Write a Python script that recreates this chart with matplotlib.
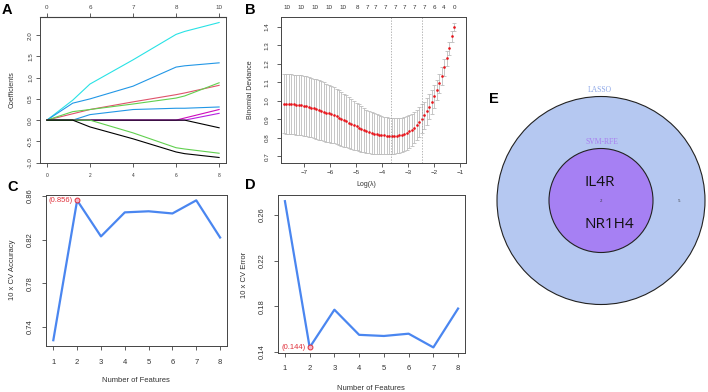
import matplotlib
matplotlib.use("Agg")
import matplotlib.pyplot as plt
from matplotlib.patches import Circle

plt.rcParams['font.family'] = ['Liberation Sans', 'DejaVu Sans']

# ---- panel A: lasso coefficient paths ----
l1_norm = [0, 1.2, 2, 4, 6, 6.4, 8]
coef_paths = [
    [0, 0.47, 0.85, 1.42, 2.02, 2.09, 2.30],
    [0, 0.40, 0.50, 0.80, 1.25, 1.28, 1.35],
    [0, 0.15, 0.25, 0.43, 0.60, 0.64, 0.82],
    [0, 0.20, 0.25, 0.38, 0.52, 0.57, 0.88],
    [0, 0.00, 0.13, 0.25, 0.28, 0.28, 0.31],
    [0, 0.00, 0.00, 0.00, 0.00, 0.05, 0.25],
    [0, 0.00, 0.00, 0.00, 0.00, 0.00, 0.16],
    [0, 0.00, 0.00, 0.00, 0.00, 0.00, -0.18],
    [0, 0.00, 0.00, -0.30, -0.65, -0.68, -0.78],
    [0, 0.00, -0.16, -0.44, -0.75, -0.79, -0.88],
]
coef_colors = ['#28E2E5', '#2297E6', '#DF536B', '#61D04F', '#2297E6',
               '#CD0BBC', '#B620E0', 'black', '#61D04F', 'black']
a_bottom_labels = ['0', '2', '4', '6', '8']
a_top_labels = ['0', '6', '7', '8', '10']

# ---- panel B: cross-validated binomial deviance ----
log_lambda = [-7.78, -7.68, -7.59, -7.49, -7.39, -7.30, -7.20, -7.10, -7.01, -6.91,
              -6.82, -6.72, -6.62, -6.53, -6.43, -6.33, -6.24, -6.14, -6.04, -5.95,
              -5.85, -5.75, -5.66, -5.56, -5.46, -5.37, -5.27, -5.18, -5.08, -4.98,
              -4.89, -4.79, -4.69, -4.60, -4.50, -4.40, -4.31, -4.21, -4.11, -4.02,
              -3.92, -3.82, -3.73, -3.63, -3.54, -3.44, -3.34, -3.25, -3.15, -3.05,
              -2.96, -2.86, -2.76, -2.67, -2.57, -2.47, -2.38, -2.28, -2.18, -2.09,
              -1.99, -1.89, -1.80, -1.70, -1.61, -1.51, -1.41, -1.32, -1.22]
cv_mean = [0.985, 0.984, 0.983, 0.982, 0.981, 0.980, 0.978, 0.976, 0.974, 0.971,
           0.967, 0.964, 0.960, 0.956, 0.951, 0.947, 0.942, 0.937, 0.932, 0.927,
           0.922, 0.916, 0.910, 0.903, 0.896, 0.890, 0.883, 0.876, 0.869, 0.862,
           0.855, 0.848, 0.842, 0.836, 0.831, 0.826, 0.823, 0.820, 0.817, 0.815,
           0.813, 0.812, 0.810, 0.810, 0.810, 0.812, 0.813, 0.817, 0.823, 0.828,
           0.835, 0.844, 0.855, 0.870, 0.886, 0.904, 0.922, 0.943, 0.969, 0.994,
           1.024, 1.059, 1.095, 1.135, 1.181, 1.230, 1.286, 1.349, 1.400]
cv_se = [0.161, 0.161, 0.161, 0.161, 0.161, 0.162, 0.162, 0.162, 0.162, 0.162,
         0.162, 0.161, 0.161, 0.160, 0.160, 0.159, 0.158, 0.157, 0.156, 0.154,
         0.152, 0.150, 0.148, 0.146, 0.143, 0.141, 0.138, 0.135, 0.132, 0.129,
         0.126, 0.123, 0.120, 0.117, 0.115, 0.112, 0.110, 0.108, 0.106, 0.104,
         0.102, 0.100, 0.098, 0.097, 0.096, 0.095, 0.094, 0.093, 0.092, 0.091,
         0.089, 0.087, 0.085, 0.083, 0.080, 0.077, 0.074, 0.071, 0.068, 0.064,
         0.060, 0.056, 0.052, 0.048, 0.044, 0.040, 0.035, 0.030, 0.022]
lambda_min = -3.65
lambda_1se = -2.45
b_top_pos = [-7.67, -7.11, -6.58, -6.04, -5.50, -4.94, -4.55, -4.24, -3.87, -3.50,
             -3.13, -2.76, -2.38, -2.00, -1.63, -1.22]
b_top_labels = ['10', '10', '10', '10', '10', '8', '7', '7', '7', '7', '7', '7', '7', '6', '4', '0']

# ---- panels C, D: SVM-RFE ----
n_features = [1, 2, 3, 4, 5, 6, 7, 8]
cv_accuracy = [0.728, 0.856, 0.823, 0.845, 0.846, 0.844, 0.856, 0.822]
cv_error = [0.272, 0.144, 0.177, 0.155, 0.154, 0.156, 0.144, 0.178]

# ---- panel E: venn ----
venn_sets = ['LASSO', 'SVM-RFE']
venn_counts = [5, 2]
venn_genes = ['IL4R', 'NR1H4']

W, H = 708, 392
fig = plt.figure(figsize=(W / 100, H / 100), dpi=100)


def add_ax(l, t, r, b):
    return fig.add_axes([l / W, 1 - b / H, (r - l) / W, (b - t) / H])


def ftext(x, y, s, **kw):
    fig.text(x / W, 1 - y / H, s, **kw)


def r_style(ax, fs, pad=2):
    for sp in ax.spines.values():
        sp.set_color('#444444')
        sp.set_linewidth(0.7)
    ax.tick_params(direction='out', length=3, width=0.6, labelsize=fs,
                   colors='#444444', labelcolor='#333333', pad=pad)
    ax.tick_params(axis='y', labelrotation=90)
    plt.setp(ax.get_yticklabels(), va='center')


# A
axA = add_ax(40, 17, 226, 163)
for path, col in zip(coef_paths, coef_colors):
    axA.plot(l1_norm, path, color=col, lw=0.8)
axA.set_xlim(-0.32, 8.32)
axA.set_ylim(-1.01, 2.43)
axA.set_xticks([0, 2, 4, 6, 8])
axA.set_xticklabels(a_bottom_labels)
axA.set_yticks([-1, -0.5, 0, 0.5, 1, 1.5, 2])
axA.set_yticklabels(['-1.0', '-0.5', '0.0', '0.5', '1.0', '1.5', '2.0'])
r_style(axA, 4.5)
axA.tick_params(axis='x', labelsize=3.5, pad=4)
topA = axA.secondary_xaxis('top')
topA.set_xticks([0, 2, 4, 6, 8])
topA.set_xticklabels(a_top_labels)
topA.tick_params(direction='out', length=3, width=0.6, labelsize=4.5, colors='#444444', pad=2)
ftext(12, 90, 'Coefficients', rotation=90, ha='center', va='center', fontsize=5, color='#333333')

# B
axB = add_ax(281, 17, 466, 163)
axB.errorbar(log_lambda, cv_mean, yerr=cv_se, fmt='none', ecolor='#BDBDBD',
             elinewidth=0.6, capsize=1.3, capthick=0.6)
axB.plot(log_lambda, cv_mean, 'o', color='#E8141B', ms=1.9, mew=0)
axB.axvline(lambda_min, color='#999999', ls=(0, (2, 2)), lw=0.5)
axB.axvline(lambda_1se, color='#999999', ls=(0, (2, 2)), lw=0.5)
axB.set_xlim(-7.885, -0.77)
axB.set_ylim(0.664, 1.454)
axB.set_xticks([-7, -6, -5, -4, -3, -2, -1])
axB.set_yticks([0.7, 0.8, 0.9, 1.0, 1.1, 1.2, 1.3, 1.4])
r_style(axB, 4.5)
axB.tick_params(axis='y', pad=5)
topB = axB.secondary_xaxis('top')
topB.set_xticks(b_top_pos)
topB.set_xticklabels(b_top_labels)
topB.tick_params(length=0, labelsize=4.5, labelcolor='#333333', pad=5)
topB.spines['top'].set_visible(False)
ftext(366, 185, 'Log(λ)', ha='center', va='center', fontsize=5, color='#333333')
ftext(251, 90, 'Binomial Deviance', rotation=90, ha='center', va='center', fontsize=5, color='#333333')

# C
blue = '#4A86F0'
axC = add_ax(46, 195, 227, 346)
axC.plot(n_features, cv_accuracy, color=blue, lw=1.6)
best_c = cv_accuracy.index(max(cv_accuracy))
axC.plot(n_features[best_c], cv_accuracy[best_c], 'o', ms=3.5, mfc='#F4B6C8', mec='#E0303A', mew=0.7)
axC.annotate('(%.3f)' % cv_accuracy[best_c], (n_features[best_c], cv_accuracy[best_c]),
             xytext=(-3, 0), textcoords='offset points', ha='right', va='center',
             fontsize=5.5, color='#E0303A')
axC.set_xlim(0.693, 8.29)
axC.set_ylim(0.7227, 0.8609)
axC.set_xticks(n_features)
axC.set_yticks([0.74, 0.78, 0.82, 0.86])
r_style(axC, 5.5, pad=6)
ftext(136, 380, 'Number of Features', ha='center', va='center', fontsize=5.5, color='#333333')
ftext(13, 270, '10 x CV Accuracy', rotation=90, ha='center', va='center', fontsize=5.5, color='#333333')

# D
axD = add_ax(278, 195, 465, 353)
axD.plot(n_features, cv_error, color=blue, lw=1.6)
best_d = cv_error.index(min(cv_error))
axD.plot(n_features[best_d], cv_error[best_d], 'o', ms=3.5, mfc='#F4B6C8', mec='#E0303A', mew=0.7)
axD.annotate('(%.3f)' % cv_error[best_d], (n_features[best_d], cv_error[best_d]),
             xytext=(-3, 0), textcoords='offset points', ha='right', va='center',
             fontsize=5.5, color='#E0303A')
axD.set_xlim(0.72, 8.28)
axD.set_ylim(0.1391, 0.2774)
axD.set_xticks(n_features)
axD.set_yticks([0.14, 0.18, 0.22, 0.26])
r_style(axD, 5.5, pad=6)
ftext(371, 388, 'Number of Features', ha='center', va='center', fontsize=5.5, color='#333333')
ftext(245, 275, '10 x CV Error', rotation=90, ha='center', va='center', fontsize=5.5, color='#333333')

# E
axE = add_ax(470, 0, 708, 392)
axE.set_xlim(470, 708)
axE.set_ylim(392, 0)
axE.axis('off')
cx, cy = 601, 200.5
axE.add_patch(Circle((cx, cy), 104, facecolor='#B5C8F1', edgecolor='#222222', lw=0.8))
axE.add_patch(Circle((cx, cy), 52, facecolor='#A680F3', edgecolor='#222222', lw=0.8))
axE.text(cx - 1.5, 89.5, venn_sets[0], ha='center', va='center', fontsize=5.5,
         color='#8EA8E8', family='Liberation Serif')
axE.text(cx + 1.5, 142, venn_sets[1], ha='center', va='center', fontsize=5.5,
         color='#A97EF0', family='Liberation Serif')
axE.text(cx, cy, str(venn_counts[1]), ha='center', va='center', fontsize=3.5,
         color='#333333', family='Liberation Serif')
axE.text(679, cy, str(venn_counts[0]), ha='center', va='center', fontsize=3.5,
         color='#333333', family='Liberation Serif')
axE.text(cx - 1, 182.5, venn_genes[0], ha='center', va='center', fontsize=11,
         color='#111111', family='Open Sans')
axE.text(cx + 8, 224, venn_genes[1], ha='center', va='center', fontsize=11,
         color='#111111', family='Open Sans')

# panel letters
for lab, x, y in [('A', 2, 3), ('B', 245, 3), ('C', 7, 180), ('D', 245, 178), ('E', 489, 92)]:
    ftext(x, y, lab, ha='left', va='top', fontsize=10.5, fontweight='bold', color='black')

fig.savefig('out.png', dpi=100)
